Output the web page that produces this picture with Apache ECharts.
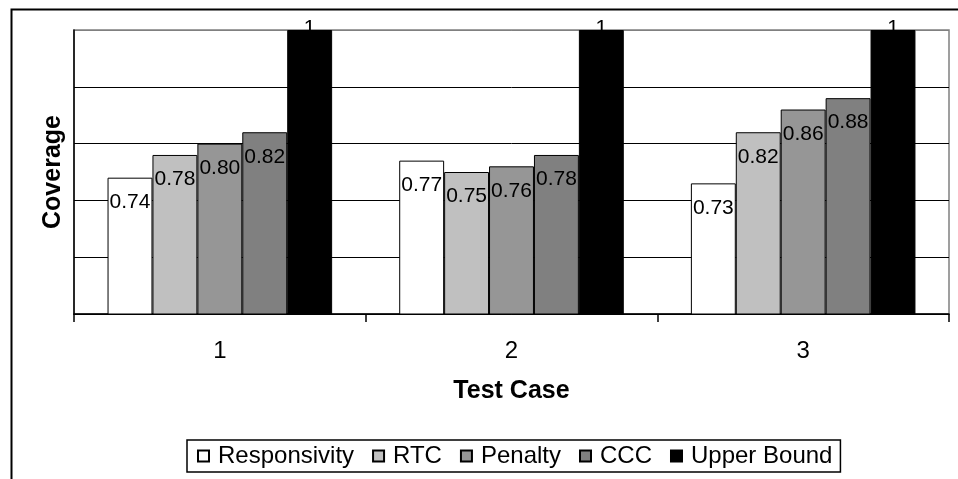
<!DOCTYPE html>
<html>
<head>
<meta charset="utf-8">
<script src="https://cdn.jsdelivr.net/npm/echarts@6/dist/echarts.min.js"></script>
<style>
html,body{margin:0;padding:0;background:#fff;}
#chart{width:958px;height:479px;}
</style>
</head>
<body>
<div id="chart"></div>
<script>
const categories = ['1', '2', '3'];
const seriesNames = ['Responsivity', 'RTC', 'Penalty', 'CCC', 'Upper Bound'];
const responsivity = [0.74, 0.77, 0.73];
const rtc = [0.78, 0.75, 0.82];
const penalty = [0.80, 0.76, 0.86];
const ccc = [0.82, 0.78, 0.88];
const upperBound = [1, 1, 1];
const seriesColors = ['#FFFFFF', '#C0C0C0', '#969696', '#808080', '#000000'];
const allValues = [responsivity, rtc, penalty, ccc, upperBound];

const FONT = "'Liberation Sans', Arial, sans-serif";
const chart = echarts.init(document.getElementById('chart'), null, {renderer: 'canvas'});

const series = allValues.map((vals, i) => {
  const isUpper = i === 4;
  return {
    name: seriesNames[i],
    type: 'bar',
    data: vals,
    barGap: '0%',
    barCategoryGap: '23%',
    itemStyle: {color: seriesColors[i], borderColor: '#000', borderWidth: 1},
    emphasis: {disabled: true},
    label: isUpper ? {
      show: true, position: 'top', distance: 0, offset: [0, 9],
      color: '#000', fontSize: 21, fontFamily: FONT,
      formatter: p => String(p.value)
    } : {
      show: true, position: 'insideTop', distance: 14,
      color: '#000', fontSize: 21, fontFamily: FONT,
      formatter: p => p.value.toFixed(2)
    }
  };
});

chart.setOption({
  animation: false,
  backgroundColor: '#fff',
  graphic: [{
    type: 'rect', left: 9, top: 7, z: -10,
    shape: {x: 0, y: 0, width: 1000, height: 1000},
    style: {fill: 'none', stroke: '#000', lineWidth: 2}
  }],
  grid: {left: 74, right: 9, top: 30, bottom: 165, show: true, borderColor: '#808080', borderWidth: 1.5, containLabel: false},
  legend: {
    data: seriesNames,
    left: 187, top: 440,
    height: 33,
    padding: [4, 8, 4, 10],
    itemWidth: 11, itemHeight: 11, itemGap: 18,
    borderColor: '#000', borderWidth: 1.5,
    textStyle: {fontSize: 24, fontFamily: FONT, color: '#000', padding: [0, 0, 0, 4]},
    icon: 'rect',
    selectedMode: false
  },
  xAxis: {
    type: 'category',
    data: categories,
    name: 'Test Case',
    nameLocation: 'middle',
    nameGap: 65,
    nameTextStyle: {fontSize: 25, fontWeight: 'bold', fontFamily: FONT, color: '#000'},
    axisLine: {lineStyle: {color: '#000', width: 1.5}},
    axisTick: {show: true, length: 8, lineStyle: {color: '#000', width: 1.5}},
    axisLabel: {fontSize: 24, fontFamily: FONT, color: '#000', margin: 25},
    splitLine: {show: false}
  },
  yAxis: {
    type: 'value',
    min: 0.5, max: 1, interval: 0.1,
    name: 'Coverage',
    nameLocation: 'middle',
    nameGap: 8,
    nameRotate: 90,
    nameTextStyle: {fontSize: 25, fontWeight: 'bold', fontFamily: FONT, color: '#000'},
    axisLine: {show: true, lineStyle: {color: '#000', width: 1.5}},
    axisTick: {show: false},
    axisLabel: {show: false},
    splitLine: {show: true, lineStyle: {color: ['#000', '#000', '#000', '#000', '#000', '#808080'], width: 1}}
  },
  series: series
});
</script>
</body>
</html>
